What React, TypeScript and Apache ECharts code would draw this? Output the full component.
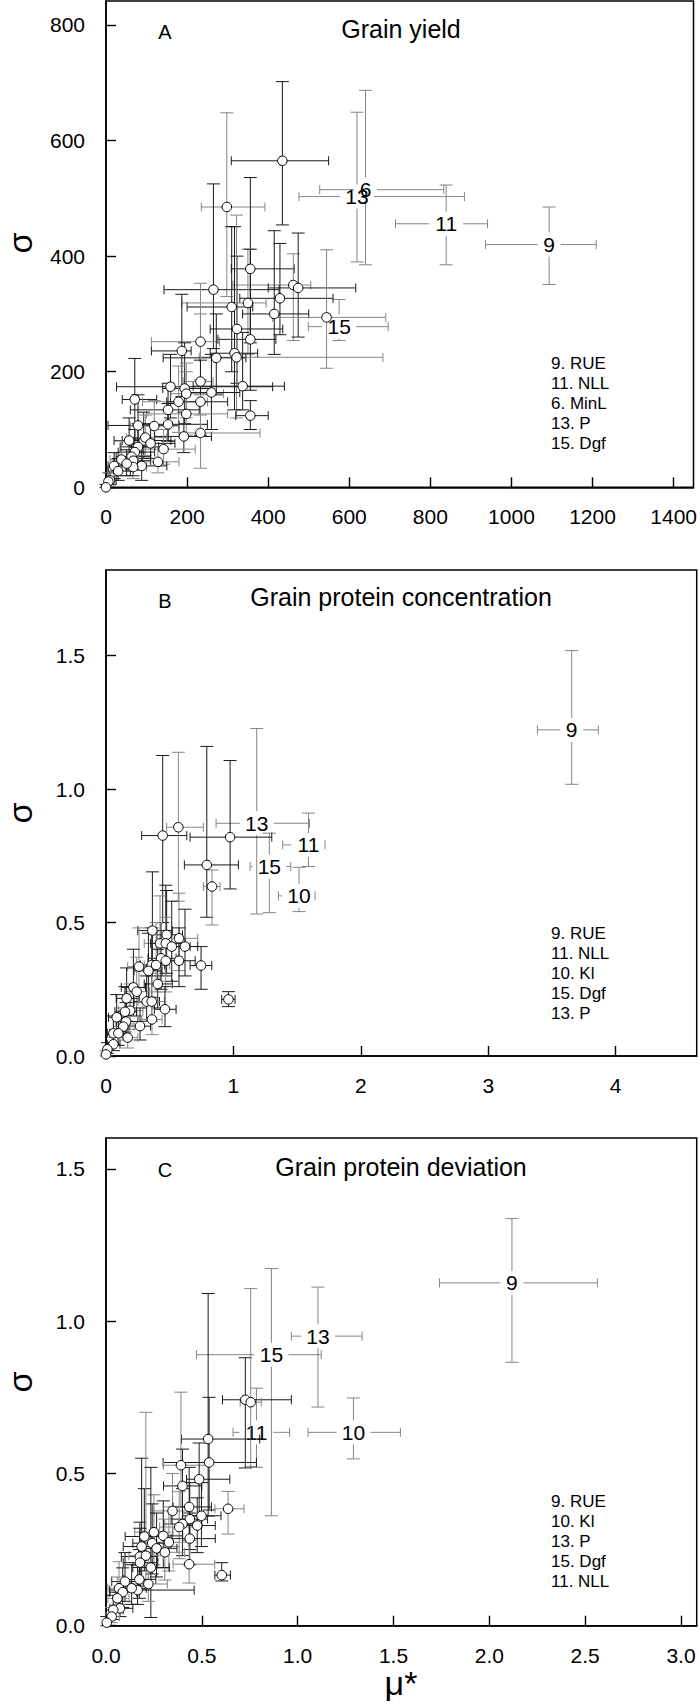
import React, { useEffect, useRef } from "react";
import * as echarts from "echarts";

// Each row: [mu*, sigma, mu* low, mu* high, sigma low, sigma high]
const pointsA = [
  [435, 565, 309, 549, 454, 702],
  [298, 485, 235, 392, 330, 648],
  [356, 378, 309, 464, 250, 536],
  [265, 342, 143, 427, 240, 525],
  [462, 350, 313, 505, 254, 404],
  [474, 345, 400, 616, 260, 440],
  [429, 327, 330, 560, 264, 422],
  [350, 319, 187, 395, 230, 412],
  [310, 312, 200, 362, 200, 451],
  [415, 300, 337, 500, 230, 444],
  [544, 294, 411, 690, 206, 411],
  [323, 274, 257, 436, 180, 400],
  [356, 256, 276, 419, 168, 412],
  [233, 252, 112, 280, 186, 353],
  [187, 236, 112, 210, 157, 334],
  [317, 232, 257, 374, 134, 451],
  [322, 225, 230, 683, 120, 471],
  [272, 224, 141, 345, 160, 300],
  [337, 175, 215, 440, 134, 268],
  [233, 183, 190, 264, 125, 300],
  [159, 174, 26, 411, 120, 230],
  [194, 171, 140, 260, 110, 250],
  [198, 162, 160, 290, 120, 215],
  [260, 164, 200, 330, 100, 230],
  [71, 152, 40, 125, 82, 223],
  [179, 148, 90, 250, 95, 210],
  [233, 148, 150, 300, 90, 220],
  [153, 134, 60, 230, 80, 180],
  [198, 127, 100, 300, 90, 200],
  [356, 124, 320, 400, 100, 150],
  [79, 107, 5, 180, 60, 160],
  [119, 106, 60, 180, 70, 150],
  [153, 109, 80, 250, 80, 145],
  [192, 88, 120, 260, 60, 130],
  [233, 94, 180, 380, 33, 160],
  [57, 81, 20, 110, 45, 120],
  [93, 81, 40, 160, 50, 130],
  [97, 86, 50, 150, 55, 125],
  [110, 76, 60, 170, 50, 110],
  [79, 70, 35, 130, 40, 110],
  [142, 66, 90, 220, 40, 100],
  [71, 61, 30, 120, 30, 100],
  [63, 53, 25, 110, 30, 85],
  [38, 48, 10, 80, 20, 80],
  [20, 37, 5, 50, 15, 60],
  [67, 46, 30, 110, 20, 75],
  [128, 44, 80, 180, 25, 70],
  [88, 37, 50, 150, 12, 70],
  [30, 28, 5, 60, 12, 50],
  [67, 35, 30, 100, 15, 60],
  [51, 41, 20, 90, 20, 65],
  [10, 12, 2, 25, 5, 25],
  [6, 10, 0, 20, 2, 25],
  [0, 0, 0, 5, 0, 5],
];
const labeledA = [
  [1093, 420, 936, 1209, 351, 485],
  [839, 456, 714, 941, 385, 523],
  [640, 515, 527, 833, 385, 687],
  [619, 503, 476, 884, 390, 649],
  [575, 278, 499, 696, 254, 325],
];
const labelNamesA = ["9", "11", "6", "13", "15"];
const legendA = ["9. RUE", "11. NLL", "6. MinL", "13. P", "15. Dgf"];
const xTicksA = [0, 200, 400, 600, 800, 1000, 1200, 1400];
const yTicksA = [0, 200, 400, 600, 800];

const pointsB = [
  [0.445, 0.826, 0.28, 0.634, 0.5, 1.126],
  [0.568, 0.857, 0.476, 0.764, 0.58, 1.138],
  [0.974, 0.82, 0.66, 1.301, 0.626, 1.107],
  [0.791, 0.716, 0.615, 1.039, 0.52, 1.16],
  [0.832, 0.635, 0.764, 0.895, 0.491, 0.697],
  [0.364, 0.47, 0.25, 0.52, 0.3, 0.69],
  [0.476, 0.454, 0.4, 0.6, 0.31, 0.62],
  [0.424, 0.422, 0.3, 0.55, 0.28, 0.6],
  [0.469, 0.422, 0.35, 0.62, 0.3, 0.64],
  [0.516, 0.41, 0.4, 0.66, 0.28, 0.58],
  [0.573, 0.441, 0.48, 0.72, 0.32, 0.61],
  [0.62, 0.41, 0.52, 0.72, 0.3, 0.55],
  [0.432, 0.366, 0.33, 0.55, 0.25, 0.5],
  [0.469, 0.357, 0.36, 0.6, 0.24, 0.52],
  [0.573, 0.357, 0.46, 0.7, 0.26, 0.48],
  [0.746, 0.339, 0.66, 0.83, 0.25, 0.41],
  [0.259, 0.335, 0.17, 0.38, 0.2, 0.48],
  [0.359, 0.341, 0.27, 0.46, 0.22, 0.48],
  [0.333, 0.319, 0.22, 0.44, 0.2, 0.46],
  [0.393, 0.341, 0.3, 0.5, 0.24, 0.5],
  [0.406, 0.27, 0.3, 0.52, 0.18, 0.4],
  [0.215, 0.257, 0.12, 0.31, 0.15, 0.4],
  [0.241, 0.241, 0.15, 0.34, 0.15, 0.37],
  [0.162, 0.216, 0.08, 0.26, 0.13, 0.33],
  [0.319, 0.204, 0.22, 0.42, 0.13, 0.3],
  [0.359, 0.204, 0.25, 0.46, 0.13, 0.31],
  [0.961, 0.212, 0.908, 1.013, 0.185, 0.241],
  [0.463, 0.175, 0.38, 0.55, 0.11, 0.26],
  [0.189, 0.17, 0.1, 0.29, 0.1, 0.27],
  [0.149, 0.166, 0.07, 0.24, 0.09, 0.26],
  [0.084, 0.145, 0.02, 0.16, 0.08, 0.23],
  [0.361, 0.137, 0.28, 0.44, 0.08, 0.21],
  [0.267, 0.112, 0.18, 0.35, 0.06, 0.18],
  [0.157, 0.129, 0.08, 0.25, 0.07, 0.2],
  [0.136, 0.11, 0.06, 0.22, 0.06, 0.18],
  [0.058, 0.085, 0.01, 0.12, 0.04, 0.15],
  [0.097, 0.085, 0.03, 0.17, 0.04, 0.14],
  [0.17, 0.069, 0.1, 0.25, 0.03, 0.12],
  [0.058, 0.044, 0.01, 0.11, 0.02, 0.08],
  [0.011, 0.025, 0.0, 0.04, 0.01, 0.05],
  [0.0, 0.006, 0.0, 0.02, 0.0, 0.02],
];
const labeledB = [
  [3.655, 1.222, 3.386, 3.864, 1.018, 1.519],
  [1.183, 0.872, 0.864, 1.597, 0.532, 1.227],
  [1.589, 0.791, 1.387, 1.719, 0.71, 0.91],
  [1.282, 0.71, 1.131, 1.45, 0.537, 0.835],
  [1.515, 0.6, 1.353, 1.641, 0.541, 0.707],
];
const labelNamesB = ["9", "13", "11", "15", "10"];
const legendB = ["9. RUE", "11. NLL", "10. Kl", "15. Dgf", "13. P"];
const xTicksB = [0, 1, 2, 3, 4];
const yTicksB = [0, 0.5, 1.0, 1.5];

const pointsC = [
  [0.727, 0.742, 0.608, 0.967, 0.518, 0.88],
  [0.755, 0.734, 0.7, 0.81, 0.523, 1.107],
  [0.533, 0.613, 0.394, 0.802, 0.36, 1.091],
  [0.538, 0.536, 0.298, 0.785, 0.38, 0.75],
  [0.391, 0.527, 0.3, 0.54, 0.39, 0.767],
  [0.486, 0.481, 0.42, 0.646, 0.36, 0.6],
  [0.399, 0.459, 0.3, 0.5, 0.33, 0.58],
  [0.347, 0.377, 0.25, 0.45, 0.26, 0.5],
  [0.434, 0.39, 0.35, 0.55, 0.28, 0.52],
  [0.498, 0.361, 0.4, 0.6, 0.26, 0.47],
  [0.637, 0.384, 0.568, 0.72, 0.301, 0.441],
  [0.437, 0.35, 0.34, 0.53, 0.25, 0.47],
  [0.399, 0.334, 0.3, 0.5, 0.23, 0.45],
  [0.382, 0.324, 0.28, 0.48, 0.22, 0.44],
  [0.476, 0.329, 0.38, 0.57, 0.24, 0.42],
  [0.437, 0.286, 0.34, 0.57, 0.2, 0.37],
  [0.25, 0.307, 0.15, 0.35, 0.2, 0.43],
  [0.2, 0.293, 0.1, 0.3, 0.18, 0.45],
  [0.299, 0.295, 0.2, 0.4, 0.19, 0.41],
  [0.328, 0.274, 0.23, 0.43, 0.18, 0.39],
  [0.241, 0.271, 0.14, 0.34, 0.17, 0.4],
  [0.264, 0.254, 0.17, 0.37, 0.16, 0.37],
  [0.307, 0.241, 0.21, 0.41, 0.15, 0.35],
  [0.186, 0.26, 0.09, 0.28, 0.15, 0.55],
  [0.177, 0.227, 0.08, 0.27, 0.13, 0.34],
  [0.208, 0.23, 0.12, 0.3, 0.13, 0.701],
  [0.177, 0.207, 0.09, 0.27, 0.12, 0.32],
  [0.234, 0.191, 0.14, 0.33, 0.027, 0.52],
  [0.434, 0.202, 0.35, 0.567, 0.14, 0.28],
  [0.604, 0.166, 0.568, 0.649, 0.147, 0.207],
  [0.174, 0.152, 0.09, 0.26, 0.09, 0.25],
  [0.221, 0.137, 0.13, 0.32, 0.08, 0.22],
  [0.165, 0.117, 0.02, 0.46, 0.07, 0.2],
  [0.099, 0.145, 0.03, 0.17, 0.08, 0.24],
  [0.068, 0.123, 0.01, 0.14, 0.07, 0.21],
  [0.087, 0.11, 0.02, 0.16, 0.06, 0.19],
  [0.134, 0.123, 0.06, 0.21, 0.07, 0.2],
  [0.059, 0.09, 0.01, 0.12, 0.05, 0.16],
  [0.073, 0.057, 0.02, 0.14, 0.03, 0.11],
  [0.038, 0.052, 0.0, 0.09, 0.02, 0.1],
  [0.03, 0.03, 0.0, 0.07, 0.01, 0.06],
  [0.004, 0.01, 0.0, 0.02, 0.0, 0.03],
];
const labeledC = [
  [2.118, 1.126, 1.74, 2.564, 0.865, 1.337],
  [1.106, 0.951, 0.967, 1.336, 0.718, 1.112],
  [0.863, 0.89, 0.472, 1.123, 0.361, 1.173],
  [0.785, 0.635, 0.663, 0.958, 0.52, 0.78],
  [1.291, 0.635, 1.054, 1.536, 0.548, 0.748],
];
const labelNamesC = ["9", "13", "15", "11", "10"];
const legendC = ["9. RUE", "10. Kl", "13. P", "15. Dgf", "11. NLL"];
const xTicksC = [0, 0.5, 1.0, 1.5, 2.0, 2.5, 3.0];
const yTicksC = [0, 0.5, 1.0, 1.5];

const FONT = "'Liberation Sans', Arial, Helvetica, sans-serif";
const BLACK = "#1a1a1a";
const GRAY = "#858585";

function makeRender(labels?: string[]) {
  return (params: any, api: any) => {
    const mu = api.value(0);
    const s = api.value(1);
    const c = api.coord([mu, s]);
    const cx = c[0];
    const cy = c[1];
    const xl = api.coord([api.value(2), s])[0];
    const xh = api.coord([api.value(3), s])[0];
    const yl = api.coord([mu, api.value(4)])[1];
    const yh = api.coord([mu, api.value(5)])[1];
    const color = labels ? GRAY : params.dataIndex % 3 === 1 ? GRAY : BLACK;
    const style = { stroke: color, lineWidth: 1, fill: null };
    const children: any[] = [];
    const line = (x1: number, y1: number, x2: number, y2: number) =>
      children.push({ type: "line", shape: { x1, y1, x2, y2 }, style });
    if (labels) {
      const t = labels[params.dataIndex];
      const gx = 6 + t.length * 5.5;
      const gy = 12;
      if (xl < cx - gx) line(xl, cy, cx - gx, cy);
      if (xh > cx + gx) line(cx + gx, cy, xh, cy);
      if (yh < cy - gy) line(cx, yh, cx, cy - gy);
      if (yl > cy + gy) line(cx, cy + gy, cx, yl);
      children.push({
        type: "text",
        x: cx,
        y: cy,
        style: {
          text: t,
          fill: "#000",
          fontSize: 21,
          fontFamily: FONT,
          align: "center",
          verticalAlign: "middle",
        },
      });
    } else {
      line(xl, cy, xh, cy);
      line(cx, yl, cx, yh);
    }
    line(xl, cy - 4.5, xl, cy + 4.5);
    line(xh, cy - 4.5, xh, cy + 4.5);
    line(cx - 6.5, yl, cx + 6.5, yl);
    line(cx - 6.5, yh, cx + 6.5, yh);
    return { type: "group", children };
  };
}

function makeAxis(
  gridIndex: number,
  max: number,
  ticks: number[],
  fmt: (v: number) => string,
  isX: boolean
) {
  return {
    gridIndex,
    type: "value",
    min: 0,
    max,
    splitLine: { show: false },
    axisLine: { show: true, onZero: false, lineStyle: { color: "#000", width: 1.6 } },
    axisTick: {
      show: true,
      inside: true,
      length: 10,
      customValues: ticks,
      lineStyle: { color: "#000", width: 1.4 },
    },
    axisLabel: {
      show: true,
      customValues: ticks,
      formatter: (v: number) => fmt(v),
      fontSize: 21,
      fontFamily: FONT,
      color: "#000",
      margin: isX ? 19 : 21,
    },
  };
}

const int = (v: number) => String(Math.round(v));
const one = (v: number) => v.toFixed(1);

export default function App() {
  const ref = useRef<HTMLDivElement>(null);
  useEffect(() => {
    document.body.style.margin = "0";
    if (!ref.current) return;
    const chart = echarts.init(ref.current, undefined, { renderer: "svg" });

    const grids = [
      { left: 106, top: 1, width: 590, height: 486.3 },
      { left: 106, top: 570, width: 590.7, height: 486 },
      { left: 106, top: 1138, width: 590.7, height: 487.7 },
    ].map((g) => ({ ...g, show: true, borderColor: "#000", borderWidth: 1.5, backgroundColor: "transparent" }));

    const xAxes = [
      makeAxis(0, 1449, xTicksA, int, true),
      makeAxis(1, 4.636, xTicksB, int, true),
      makeAxis(2, 3.082, xTicksC, one, true),
    ];
    const yAxes = [
      makeAxis(0, 841.5, yTicksA, int, false),
      makeAxis(1, 1.821, yTicksB, one, false),
      makeAxis(2, 1.6017, yTicksC, one, false),
    ];

    const panels = [
      { pts: pointsA, lab: labeledA, names: labelNamesA },
      { pts: pointsB, lab: labeledB, names: labelNamesB },
      { pts: pointsC, lab: labeledC, names: labelNamesC },
    ];
    const series: any[] = [];
    panels.forEach((p, i) => {
      series.push({
        type: "custom",
        xAxisIndex: i,
        yAxisIndex: i,
        data: p.lab,
        encode: { x: [0, 2, 3], y: [1, 4, 5] },
        renderItem: makeRender(p.names),
        clip: false,
        z: 2,
      });
      series.push({
        type: "custom",
        xAxisIndex: i,
        yAxisIndex: i,
        data: p.pts,
        encode: { x: [0, 2, 3], y: [1, 4, 5] },
        renderItem: makeRender(),
        clip: false,
        z: 3,
      });
      series.push({
        type: "scatter",
        xAxisIndex: i,
        yAxisIndex: i,
        data: p.pts.map((r) => [r[0], r[1]]),
        symbol: "circle",
        symbolSize: 9.5,
        itemStyle: { color: "#fff", borderColor: "#000", borderWidth: 1, opacity: 1 },
        z: 4,
      });
    });

    const titleStyle = (text: string) => ({
      text,
      fontSize: 25,
      fontFamily: FONT,
      fill: "#000",
      align: "center",
      verticalAlign: "middle",
    });
    const letterStyle = (text: string) => ({
      text,
      fontSize: 20,
      fontFamily: FONT,
      fill: "#000",
      align: "center",
      verticalAlign: "middle",
    });
    const legendStyle = (lines: string[]) => ({
      text: lines.join("\n"),
      fontSize: 17,
      lineHeight: 20,
      fontFamily: FONT,
      fill: "#000",
      align: "left",
      verticalAlign: "top",
    });
    const sigmaStyle = {
      text: "σ",
      fontSize: 34,
      fontFamily: FONT,
      fill: "#000",
      align: "center",
      verticalAlign: "middle",
    };

    const graphic: any[] = [
      { type: "text", x: 401, y: 28.5, style: titleStyle("Grain yield") },
      { type: "text", x: 401, y: 597, style: titleStyle("Grain protein concentration") },
      { type: "text", x: 401, y: 1167, style: titleStyle("Grain protein deviation") },
      { type: "text", x: 165, y: 32, style: letterStyle("A") },
      { type: "text", x: 165, y: 600.5, style: letterStyle("B") },
      { type: "text", x: 165, y: 1170, style: letterStyle("C") },
      { type: "text", x: 551, y: 353, style: legendStyle(legendA) },
      { type: "text", x: 551, y: 923, style: legendStyle(legendB) },
      { type: "text", x: 551, y: 1491, style: legendStyle(legendC) },
      { type: "text", x: 20, y: 243, rotation: Math.PI / 2, style: sigmaStyle },
      { type: "text", x: 20, y: 813, rotation: Math.PI / 2, style: sigmaStyle },
      { type: "text", x: 20, y: 1382, rotation: Math.PI / 2, style: sigmaStyle },
      {
        type: "text",
        x: 401,
        y: 1683,
        style: {
          text: "μ*",
          fontSize: 34,
          fontFamily: FONT,
          fill: "#000",
          align: "center",
          verticalAlign: "middle",
        },
      },
    ];

    chart.setOption({
      animation: false,
      backgroundColor: "#fff",
      grid: grids,
      xAxis: xAxes,
      yAxis: yAxes,
      series,
      graphic,
    });
    return () => chart.dispose();
  }, []);
  return <div ref={ref} style={{ width: 700, height: 1707 }} />;
}
